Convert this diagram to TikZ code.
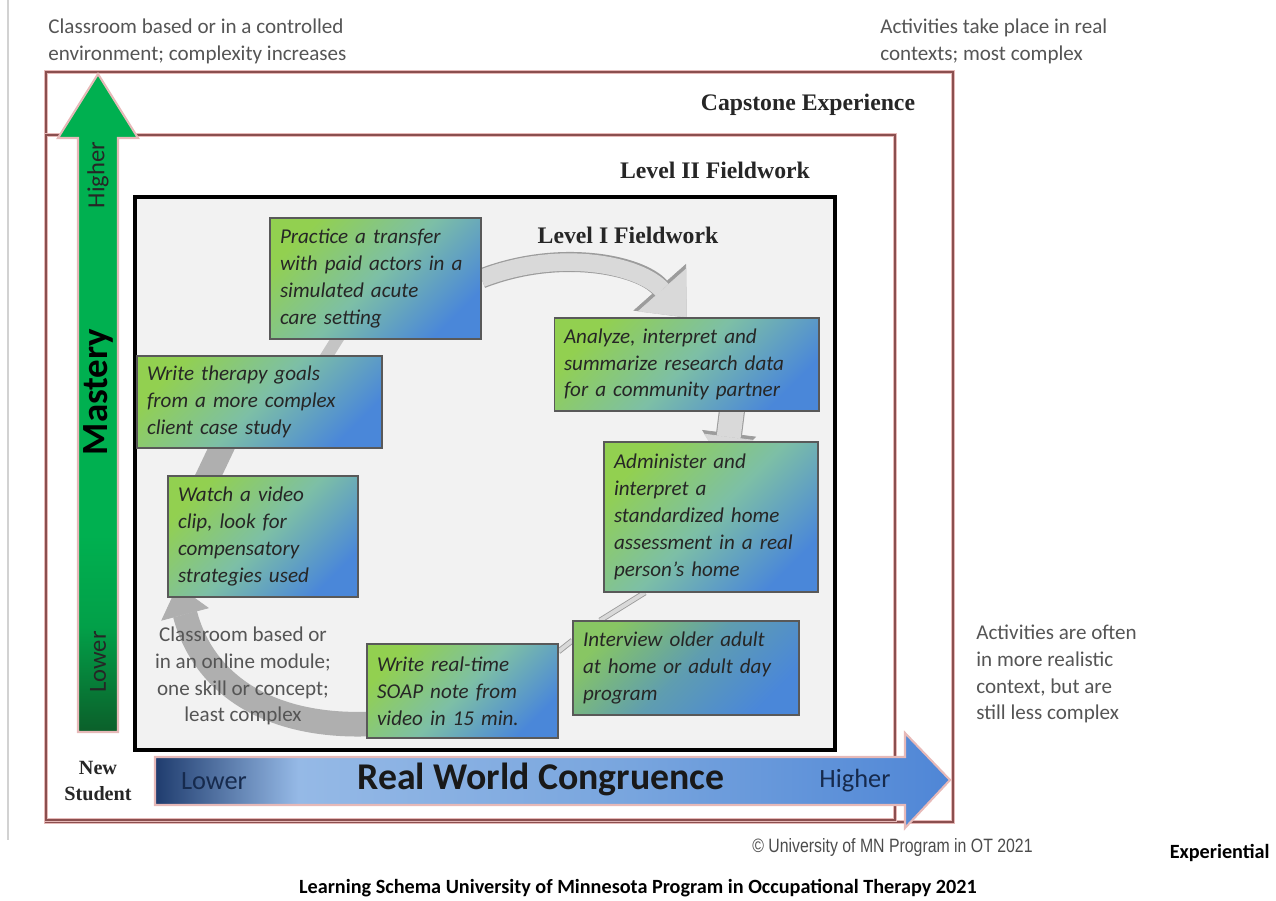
\documentclass[tikz,border=0pt]{standalone}
\usepackage{fontspec}
\usepackage{graphicx}
\setmainfont{Carlito}
\newfontfamily\labelserif{Liberation Serif}
\newfontfamily\creditfont{Liberation Sans}
\usetikzlibrary{arrows.meta,calc}

\definecolor{framered}{HTML}{8B4F4F}
\definecolor{framepink}{HTML}{E6B9B8}
\definecolor{levelfill}{HTML}{F2F2F2}
\definecolor{actgreen}{HTML}{92D050}
\definecolor{actteal}{HTML}{7DBFA6}
\definecolor{actdeep}{HTML}{5F9DB0}
\definecolor{actblue}{HTML}{4A87D9}
\definecolor{notegray}{HTML}{555555}
\definecolor{mastgreen}{HTML}{00B050}
\definecolor{mastdark}{HTML}{0B5F2A}
\definecolor{congnavy}{HTML}{1F3C6E}
\definecolor{conglight}{HTML}{95B9E6}
\definecolor{congmid}{HTML}{78A5DE}
\definecolor{congdeep}{HTML}{4F86D6}
\definecolor{cycfill}{HTML}{D9D9D9}
\definecolor{cycedge}{HTML}{9C9C9C}
\definecolor{cycdark}{HTML}{AFAFAF}
\definecolor{cycmid}{HTML}{C4C4C4}

\pgfdeclarehorizontalshading{congruence}{100bp}{color(0bp)=(congnavy); color(25bp)=(congnavy); color(34bp)=(conglight); color(55bp)=(congmid); color(75bp)=(congdeep); color(100bp)=(congdeep)}
\pgfdeclareverticalshading{mastery}{100bp}{color(0bp)=(mastdark); color(25bp)=(mastdark); color(33bp)=(mastgreen!80!mastdark); color(40bp)=(mastgreen); color(100bp)=(mastgreen)}

\pgfdeclarelayer{back}
\pgfdeclarelayer{mid}
\pgfsetlayers{back,mid,main}

\tikzset{
  frame/.style      = {draw=framered, line width=1.1pt,
                       preaction={draw=framepink, line width=2.6pt}},
  levelbox/.style   = {draw=black, line width=1.8pt, fill=levelfill},
  fieldlabel/.style = {font=\labelserif\bfseries\fontsize{13.5}{15.3}\selectfont, text=black!85},
  activity/.style   = {rectangle, draw=gray!70!black, line width=0.6pt,
                       top color=actgreen, bottom color=actblue, middle color=actteal,
                       shading angle=45, align=left, inner xsep=0.2cm, inner ysep=0pt,
                       font=\itshape\fontsize{12}{15.3}\selectfont, text=black!85},
  activitydeep/.style = {activity, top color=actgreen!80!actdeep, bottom color=actblue,
                       middle color=actdeep, shading angle=45},
  note/.style       = {font=\fontsize{12}{15.3}\selectfont, text=notegray, align=left, inner sep=0pt},
  axistext/.style   = {font=\fontsize{14}{14}\selectfont, text=black!85},
  congtext/.style   = {font=\fontsize{15}{15}\selectfont, text=congnavy!70!black},
  caption/.style    = {font=\bfseries\fontsize{11.5}{12}\selectfont, inner sep=0pt},
  cycdarkline/.style  = {draw=cycdark, line width=14pt},
  cycmidline/.style   = {draw=cycmid, line width=7pt},
  cycedgeline/.style  = {draw=cycedge},
  cycfillline/.style  = {draw=cycfill},
  thinlink/.style   = {draw=cycedge, line width=0.5pt, double=cycfill, double distance=2.2pt}
}

\begin{document}
\begin{tikzpicture}[x=0.02cm, y=-0.02cm]
\useasboundingbox (0,0) rectangle (1276,901);

\begin{pgfonlayer}{back}
  \draw[gray!35, line width=0.8pt] (8,0) -- (8,840);
  \draw[frame] (46,72) rectangle (953,822);
  \draw[frame] (46,135) rectangle (895,820);
  \draw[levelbox] (135,197) rectangle (835,750);
\end{pgfonlayer}

\node[fieldlabel] (capstone) at (808,105) {Capstone Experience};
\node[fieldlabel] (leveltwo) at (715,170) {Level II Fieldwork};
\node[fieldlabel] (lvlone) at (628,235) {Level I Fieldwork};

\node[activity, text width=3.82cm, minimum height=2.42cm] (practice) at (375.5,278.5)
  {Practice a transfer\\with paid actors in a\\simulated acute\\care setting};
\node[activity, text width=4.50cm, minimum height=1.84cm] (goals) at (259.5,402)
  {Write therapy goals\\from a more complex\\client case study};
\node[activity, text width=3.40cm, minimum height=2.42cm] (watch) at (263,536.5)
  {Watch a video\\clip, look for\\compensatory\\strategies used};
\node[activity, text width=3.42cm, minimum height=1.88cm] (soap) at (462.5,691)
  {Write real-time\\SOAP note from\\video in 15 min.};
\node[activitydeep, text width=4.12cm, minimum height=1.88cm] (interview) at (686,668)
  {Interview older adult\\at home or adult day\\program};
\node[activity, text width=3.88cm, minimum height=3.00cm] (administer) at (711,517)
  {Administer and\\interpret a\\standardized home\\assessment in a real\\person's home};
\node[activity, text width=4.90cm, minimum height=1.86cm] (analyze) at (686.5,364.5)
  {Analyze, interpret and\\summarize research data\\for a community partner};

\begin{pgfonlayer}{mid}
  \draw[cycdarkline, -{Triangle[length=17pt, width=28pt, line width=0.4pt]}]
    ($(soap.west)+(30,31)$) .. controls (280,735) and (205,690) .. ($(watch.south west)+(10,-12)$);
  \draw[cycdarkline] ($(watch.north west)+(32,19)$) -- ($(goals.south west)+(91,-13)$);
  \draw[cycmidline] ($(goals.north)+(65,4)$) -- ($(practice.south west)+(70,-4)$);
  \draw[cycedgeline, line width=11.4pt, -{Triangle[length=23pt, width=40pt, line width=0.4pt]}]
    (practice.east) .. controls (560,248) and (640,265) .. (analyze.north);
  \draw[cycfillline, line width=10pt, -{Triangle[length=21pt, width=37pt, line width=0.4pt]}]
    (practice.east) .. controls (560,248) and (640,265) .. (analyze.north);
  \draw[cycedgeline, line width=14.8pt, -{Triangle[length=19pt, width=31pt, line width=0.4pt]}]
    ($(analyze.south)+(46,-5)$) -- ($(administer.north)+(14,25)$);
  \draw[cycfillline, line width=13.6pt, -{Triangle[length=17pt, width=28.5pt, line width=0.4pt]}]
    ($(analyze.south)+(46,-5)$) -- ($(administer.north)+(14,25)$);
  \draw[thinlink] ($(administer.south)+(-66,0)$) -- ($(interview.north)+(-86,0)$);
  \draw[thinlink] ($(soap.north east)+(0,8)$) -- ($(interview.north west)+(0,20)$);
\end{pgfonlayer}

\node[note, align=center] (leastnote) at (243,676)
  {Classroom based or\\in an online module;\\one skill or concept;\\least complex};
\node[note, anchor=west] (topleft) at (48,41)
  {Classroom based or in a controlled\\environment; complexity increases};
\node[note, anchor=west] (topright) at (880,41)
  {Activities take place in real\\contexts; most complex};
\node[note, anchor=west] (rightnote) at (976,674)
  {Activities are often\\in more realistic\\context, but are\\still less complex};

\shadedraw[shading=mastery, draw=framepink, line width=1.2pt]
  (78,732) -- (78,138) -- (58,138) -- (98,74) -- (138,138) -- (118,138) -- (118,732) -- cycle;
\node[axistext, rotate=90] (masthigh) at (98,175) {Higher};
\node[rotate=90, font=\bfseries\fontsize{21}{21}\selectfont] (mastery) at (98,392) {Mastery};
\node[axistext, rotate=90] (mastlow) at (98,662) {Lower};

\shadedraw[shading=congruence, draw=framepink, line width=1.2pt]
  (155,757) -- (905,757) -- (905,733) -- (950,780) -- (905,828) -- (905,805) -- (155,805) -- cycle;
\node[congtext] (conglow) at (214,781) {Lower};
\node[font=\bfseries\fontsize{21.5}{22}\selectfont, text=black!90] (congruence) at (541,779) {Real World Congruence};
\node[congtext] (conghigh) at (855,781) {Higher};

\node[fieldlabel, font=\labelserif\bfseries\fontsize{11.5}{15.3}\selectfont, align=center] (newstudent) at (98,781) {New\\Student};

\node[font=\creditfont\fontsize{11}{11}\selectfont, text=black!70, anchor=east, inner sep=0pt] (copyright) at (1033,848)
  {\scalebox{0.82}[1]{© University of MN Program in OT 2021}};
\node[caption, anchor=east] (experiential) at (1270,853) {Experiential};
\node[caption] (schema) at (638,888) {Learning Schema University of Minnesota Program in Occupational Therapy 2021};
\end{tikzpicture}
\end{document}
